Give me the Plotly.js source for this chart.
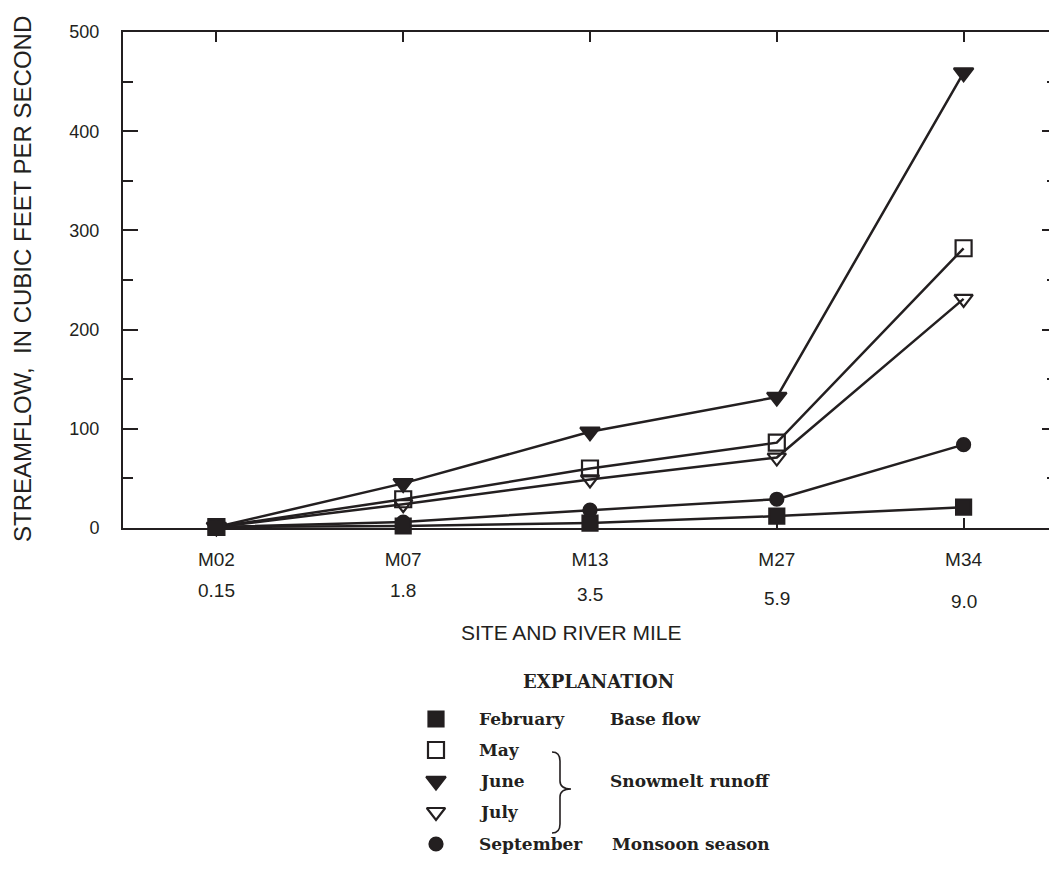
<!DOCTYPE html>
<html>
<head>
<meta charset="utf-8">
<script src="https://cdn.plot.ly/plotly-3.0.1.min.js"></script>
<style>
  html, body { margin: 0; padding: 0; overflow: hidden; background: #ffffff; }
  #chart { width: 1062px; height: 893px; }
</style>
</head>
<body>
<div id="chart"></div>
<script>
// Sampling sites and their river miles
const sites = ['M02', 'M07', 'M13', 'M27', 'M34'];
const riverMiles = ['0.15', '1.8', '3.5', '5.9', '9.0'];

// Streamflow, cubic feet per second, by month
const february = [1, 2, 5, 12, 21];
const may = [1, 29, 60, 86, 282];
const june = [1, 45, 97, 132, 459];
const july = [1, 24, 49, 71, 231];
const september = [1, 6, 18, 29, 84];

const yTickVals = [0, 100, 200, 300, 400, 500];

const monthNames = ['February', 'May', 'June', 'July', 'September'];
const flowGroups = ['Base flow', 'Snowmelt runoff', 'Monsoon season'];

// ---- page geometry (pixels) ----
const W = 1062, H = 893;
const plotLeft = 123, plotRight = 1057, plotTop = 32, plotBottom = 528;
const ink = '#231f20';
const sansFont = 'Liberation Sans, Arial, Helvetica, sans-serif';
const serifFont = 'DejaVu Serif, Liberation Serif, serif';

const seriesStyle = {
  February:  { symbol: 'square',             size: 15 },
  May:       { symbol: 'square-open',        size: 16 },
  June:      { symbol: 'triangle-down',      size: 17 },
  July:      { symbol: 'triangle-down-open', size: 16 },
  September: { symbol: 'circle',             size: 13 }
};
const seriesValues = { February: february, May: may, June: june, July: july, September: september };

const traces = [];
// draw order: lowest series last so their markers sit on top
['June', 'May', 'July', 'September', 'February'].forEach(name => {
  const st = seriesStyle[name];
  traces.push({
    type: 'scatter', mode: 'lines+markers', name: name,
    x: sites, y: seriesValues[name],
    xaxis: 'x', yaxis: 'y',
    line: { color: ink, width: 2.5 },
    marker: { symbol: st.symbol, size: st.size, color: ink,
              line: { color: ink, width: 2.2 } },
    cliponaxis: false,
    showlegend: false, hoverinfo: 'x+y+name'
  });
});

// explanation block laid out in page pixels on an overlay axis pair
const legendRowY = [719, 750, 781, 812, 844];
const legendMarkerX = 436;
const legendTextX = 477;
monthNames.forEach((name, i) => {
  const st = seriesStyle[name];
  traces.push({
    type: 'scatter', mode: 'markers',
    x: [legendMarkerX], y: [legendRowY[i]],
    xaxis: 'x2', yaxis: 'y2',
    marker: { symbol: st.symbol, size: st.size, color: ink,
              line: { color: ink, width: 2.2 } },
    showlegend: false, hoverinfo: 'skip'
  });
});

const annotations = [];
// river mile under each site name
const mileY = [590, 590, 594, 598, 601];
sites.forEach((s, i) => {
  annotations.push({
    xref: 'x', yref: 'y2', x: s, y: mileY[i],
    text: riverMiles[i], showarrow: false,
    xanchor: 'center', yanchor: 'middle',
    font: { family: sansFont, size: 19, color: ink }
  });
});
// axis titles
annotations.push({
  xref: 'x2', yref: 'y2', x: 571, y: 632,
  text: 'SITE AND RIVER MILE', showarrow: false,
  xanchor: 'center', yanchor: 'middle',
  font: { family: sansFont, size: 21, color: ink }
});
annotations.push({
  xref: 'x2', yref: 'y2', x: 22, y: 279, textangle: -90,
  text: 'STREAMFLOW,&nbsp; IN CUBIC FEET PER SECOND', showarrow: false,
  xanchor: 'center', yanchor: 'middle',
  font: { family: sansFont, size: 24, color: ink }
});
// explanation heading and entries
annotations.push({
  xref: 'x2', yref: 'y2', x: 598, y: 681,
  text: '<b>EXPLANATION</b>', showarrow: false,
  xanchor: 'center', yanchor: 'middle',
  font: { family: serifFont, size: 18, color: ink }
});
monthNames.forEach((name, i) => {
  annotations.push({
    xref: 'x2', yref: 'y2', x: legendTextX, y: legendRowY[i],
    text: '<b>' + name + '</b>', showarrow: false,
    xanchor: 'left', yanchor: 'middle',
    font: { family: serifFont, size: 17, color: ink }
  });
});
const groupLabelPos = [[608, legendRowY[0]], [608, legendRowY[2]], [610, legendRowY[4]]];
flowGroups.forEach((g, i) => {
  annotations.push({
    xref: 'x2', yref: 'y2', x: groupLabelPos[i][0], y: groupLabelPos[i][1],
    text: '<b>' + g + '</b>', showarrow: false,
    xanchor: 'left', yanchor: 'middle',
    font: { family: serifFont, size: 17, color: ink }
  });
});

// curly brace grouping the snowmelt months
const brace = {
  type: 'path', xref: 'x2', yref: 'y2',
  path: 'M 552 752 Q 560 752 560 761 L 560 781 Q 560 789 571 789 ' +
        'Q 560 789 560 797 L 560 824 Q 560 833 552 833',
  line: { color: ink, width: 1.6 }
};

const layout = {
  width: W, height: H,
  margin: { l: 0, r: 0, t: 0, b: 0 },
  paper_bgcolor: '#ffffff',
  plot_bgcolor: 'rgba(0,0,0,0)',
  showlegend: false,
  xaxis: {
    domain: [plotLeft / W, plotRight / W], anchor: 'y',
    type: 'category', categoryarray: sites, range: [-0.5, 4.5],
    showline: true, linecolor: ink, linewidth: 2, mirror: 'ticks',
    ticks: 'inside', ticklen: 10, tickwidth: 2, tickcolor: ink,
    showgrid: false, zeroline: false, fixedrange: true,
    tickfont: { family: sansFont, size: 19, color: ink },
    ticklabelstandoff: 13
  },
  yaxis: {
    domain: [1 - plotBottom / H, 1 - plotTop / H], anchor: 'x',
    range: [0, 500], tickvals: yTickVals,
    showline: true, linecolor: ink, linewidth: 2, mirror: 'ticks',
    ticks: 'inside', ticklen: 15, tickwidth: 2, tickcolor: ink,
    minor: { dtick: 50, ticks: 'inside', ticklen: 10, tickwidth: 2, tickcolor: ink, showgrid: false },
    showgrid: false, zeroline: false, fixedrange: true,
    tickfont: { family: sansFont, size: 18, color: ink },
    ticklabelstandoff: 18
  },
  xaxis2: { domain: [0, 1], anchor: 'y2', range: [0, W], visible: false, fixedrange: true },
  yaxis2: { domain: [0, 1], anchor: 'x2', range: [H, 0], visible: false, fixedrange: true },
  annotations: annotations,
  shapes: [brace]
};

Plotly.newPlot('chart', traces, layout, { displayModeBar: false, staticPlot: true });
</script>
</body>
</html>
